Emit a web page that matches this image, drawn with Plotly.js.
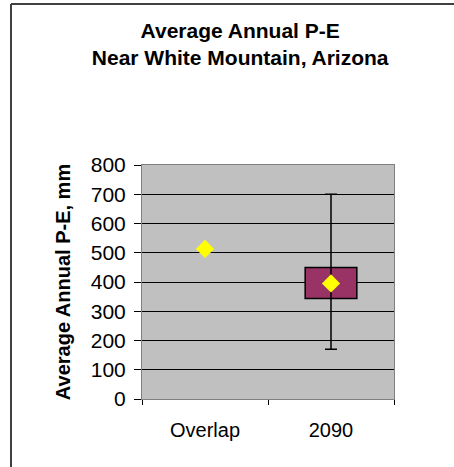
<!DOCTYPE html>
<html><head><meta charset="utf-8">
<script src="https://cdn.plot.ly/plotly-3.0.1.min.js"></script>
<style>html,body{margin:0;padding:0;background:#fff;}#chart{width:454px;height:467px;}</style>
</head><body><div id="chart"></div>
<script>
const categories = ['Overlap', '2090'];
const meanValues = [513, 395];
const boxLow = [null, 344];
const boxHigh = [null, 450];
const whiskerLow = [null, 170];
const whiskerHigh = [null, 700];
const yTickVals = [0, 100, 200, 300, 400, 500, 600, 700, 800];

const boxHeights = boxHigh.map((h, i) => (h == null ? null : h - boxLow[i]));
const errPlus = whiskerHigh.map((h, i) => (h == null ? 0 : h - meanValues[i]));
const errMinus = whiskerLow.map((l, i) => (l == null ? 0 : meanValues[i] - l));

const font = 'Arial, "Liberation Sans", sans-serif';

const traces = [
  {
    type: 'bar', x: categories, y: boxHeights, base: boxLow, width: 0.41,
    marker: {color: '#993366', line: {color: '#000000', width: 1.5}},
    hoverinfo: 'skip', showlegend: false
  },
  {
    type: 'scatter', mode: 'markers', x: categories, y: meanValues,
    marker: {symbol: 'diamond', size: 14, color: '#FFFF00', line: {width: 0}},
    error_y: {type: 'data', symmetric: false, array: errPlus, arrayminus: errMinus,
              color: '#000000', thickness: 1.5, width: 6},
    showlegend: false
  }
];

const layout = {
  width: 454, height: 467,
  margin: {l: 142, r: 60, t: 165, b: 68},
  paper_bgcolor: '#ffffff', plot_bgcolor: '#C0C0C0',
  font: {family: font, color: '#000000'},
  showlegend: false,
  title: {
    text: '<b>Average Annual P-E<br>Near White Mountain, Arizona</b>',
    font: {family: font, size: 21, color: '#000000'},
    x: 0.529, xref: 'container', xanchor: 'center',
    y: 1 - 38 / 467, yref: 'container', yanchor: 'top'
  },
  xaxis: {
    type: 'category', tickson: 'boundaries', ticks: 'outside', ticklen: 5,
    tickcolor: '#000000', showline: true, linecolor: '#808080', linewidth: 1, mirror: true,
    showgrid: false, tickfont: {family: font, size: 20}, ticklabelstandoff: 13,
    fixedrange: true
  },
  yaxis: {
    range: [0, 800], tickvals: yTickVals, ticks: 'outside', ticklen: 7,
    tickcolor: '#000000', showline: true, linecolor: '#808080', linewidth: 1, mirror: true,
    showgrid: true, gridcolor: '#000000', gridwidth: 1, zeroline: false,
    tickfont: {family: font, size: 21}, ticklabelstandoff: 4,
    title: {text: '<b>Average Annual P-E, mm</b>', font: {family: font, size: 20}, standoff: 14},
    automargin: false, fixedrange: true
  },
  bargap: 0,
  shapes: [
    {type: 'line', xref: 'paper', yref: 'paper', x0: (11 - 142) / 252, x1: (11 - 142) / 252,
     y0: (399 - 4) / 234, y1: (399 - 470) / 234, line: {color: '#404040', width: 2}},
    {type: 'line', xref: 'paper', yref: 'paper', x0: (11 - 142) / 252, x1: (456 - 142) / 252,
     y0: (399 - 4) / 234, y1: (399 - 4) / 234, line: {color: '#404040', width: 2}}
  ]
};

Plotly.newPlot('chart', traces, layout, {displayModeBar: false, staticPlot: true});
</script></body></html>
